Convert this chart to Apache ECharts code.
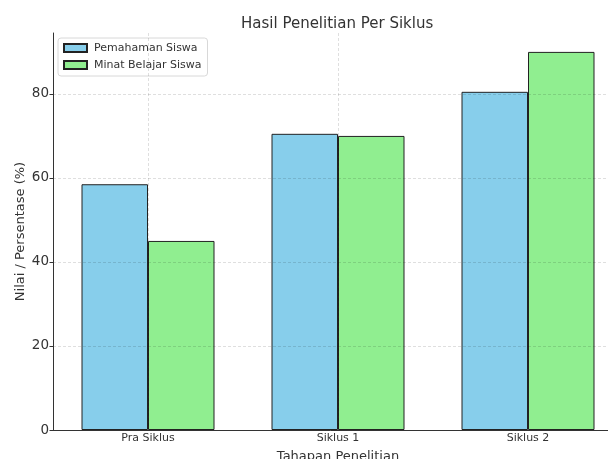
<!DOCTYPE html>
<html>
<head>
<meta charset="utf-8">
<script src="https://cdn.jsdelivr.net/npm/echarts@6/dist/echarts.min.js"></script>
<style>
  html, body { margin: 0; padding: 0; background: #fff; }
  #chart { width: 608px; height: 459px; }
</style>
</head>
<body>
<div id="chart"></div>
<script>
const categories = ['Pra Siklus', 'Siklus 1', 'Siklus 2'];
const pemahaman = [58.5, 70.5, 80.5];
const minat = [45, 70, 90];
const seriesNames = ['Pemahaman Siswa', 'Minat Belajar Siswa'];

const chart = echarts.init(document.getElementById('chart'));
const font = 'DejaVu Sans';
const gridLine = { show: true, showMaxLine: false, lineStyle: { type: [3, 2], color: 'rgba(0,0,0,0.16)', width: 0.8 } };

chart.setOption({
  animation: false,
  textStyle: { fontFamily: font },
  title: {
    text: 'Hasil Penelitian Per Siklus',
    left: 236,
    top: 12,
    textStyle: { fontFamily: font, fontSize: 15, fontWeight: 'normal', color: '#333' }
  },
  legend: {
    orient: 'vertical',
    left: 58,
    top: 38,
    padding: [3, 6, 4, 5],
    itemWidth: 23,
    itemHeight: 8,
    itemGap: 3,
    borderColor: '#d8d8d8',
    borderWidth: 1,
    borderRadius: 3,
    backgroundColor: '#fff',
    textStyle: { fontFamily: font, fontSize: 11, color: '#333', padding: [0, 0, 0, 2], lineHeight: 14 },
    data: seriesNames.map(n => ({ name: n, icon: 'rect' }))
  },
  grid: { left: 53, width: 570, top: 33, bottom: 29, outerBoundsMode: 'none' },
  xAxis: {
    type: 'category',
    data: categories,
    z: 5,
    name: 'Tahapan Penelitian',
    nameLocation: 'middle',
    nameGap: 20,
    nameTextStyle: { fontFamily: font, fontSize: 13, color: '#333' },
    axisLine: { lineStyle: { color: '#333', width: 1 } },
    axisTick: { alignWithLabel: true, length: 3.5, lineStyle: { color: '#333' } },
    axisLabel: { fontFamily: font, fontSize: 11, color: '#333', margin: 3 },
    splitLine: Object.assign({ alignWithLabel: true }, gridLine)
  },
  yAxis: {
    type: 'value',
    min: 0,
    max: 94.5,
    interval: 20,
    z: 5,
    name: 'Nilai / Persentase (%)',
    nameLocation: 'middle',
    nameGap: 26,
    nameMoveOverlap: false,
    nameTextStyle: { fontFamily: font, fontSize: 13, color: '#333' },
    axisLine: { show: true, lineStyle: { color: '#333', width: 1 } },
    axisTick: { show: true, length: 3.5, lineStyle: { color: '#333' } },
    axisLabel: { fontFamily: font, fontSize: 13.5, color: '#333', margin: 4, showMaxLabel: false },
    splitLine: gridLine
  },
  series: [
    {
      name: seriesNames[0],
      type: 'bar',
      data: pemahaman,
      barWidth: '35%',
      barGap: '0%',
      itemStyle: { color: '#87CEEB', borderColor: '#222', borderWidth: 1 }
    },
    {
      name: seriesNames[1],
      type: 'bar',
      data: minat,
      barWidth: '35%',
      barGap: '0%',
      itemStyle: { color: '#90EE90', borderColor: '#222', borderWidth: 1 }
    }
  ]
});
</script>
</body>
</html>
